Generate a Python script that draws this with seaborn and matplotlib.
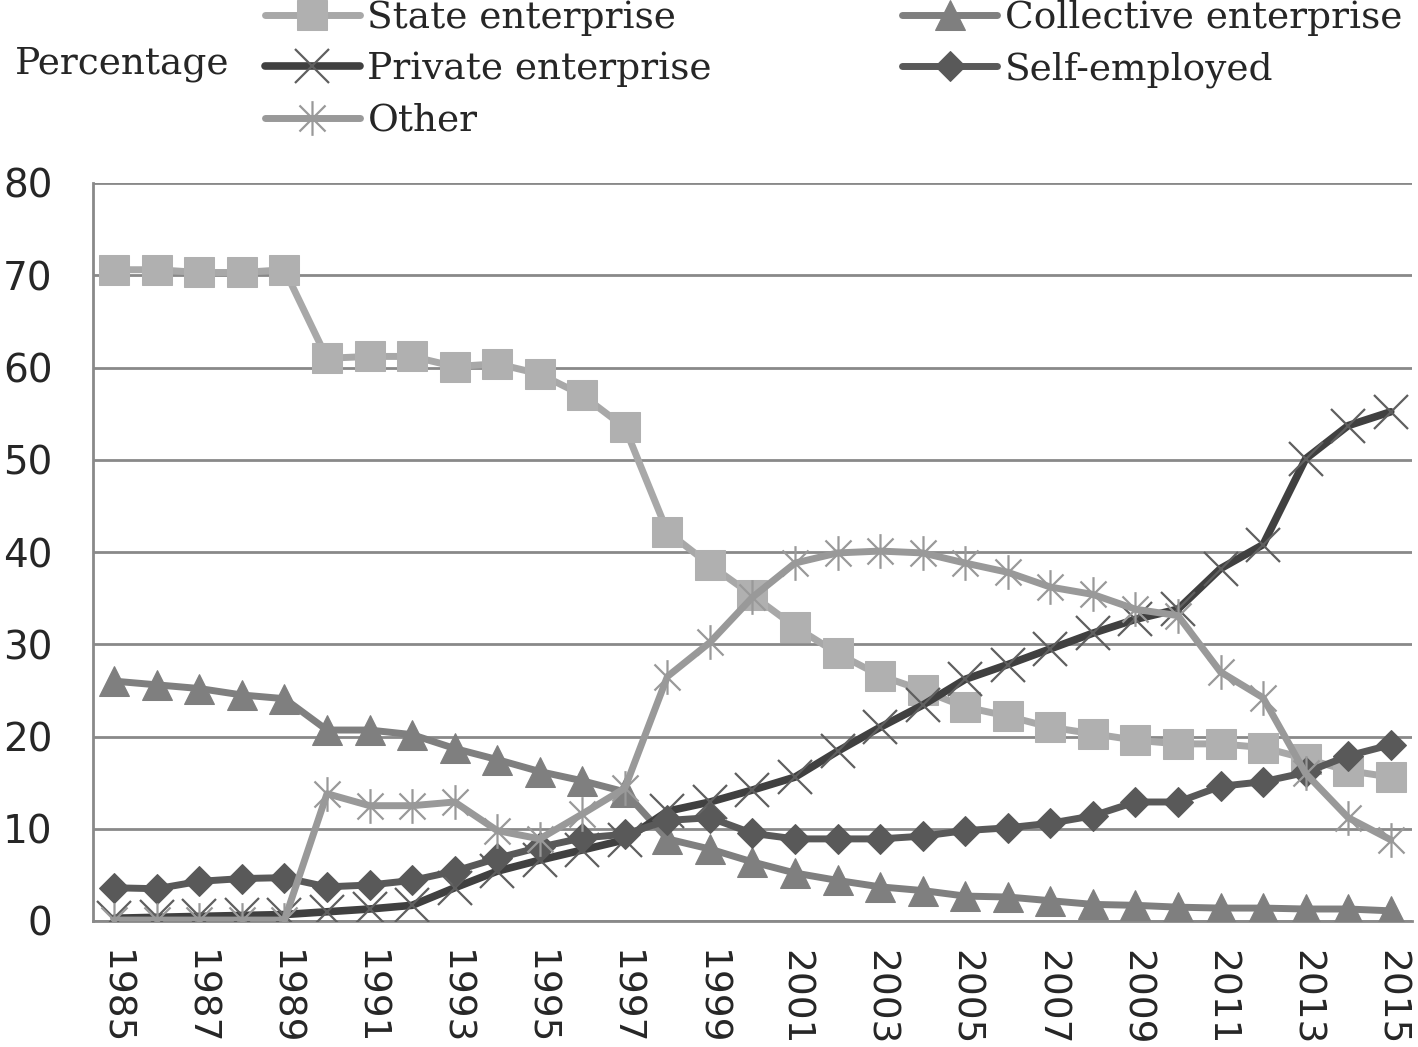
import numpy as np
import pandas as pd
import matplotlib
matplotlib.use("Agg")
import matplotlib.pyplot as plt
from matplotlib.path import Path
import seaborn as sns

years = list(range(1985, 2016))
state = [70.6, 70.6, 70.3, 70.3, 70.6,
         61.0, 61.2, 61.2, 60.1, 60.4,
         59.3, 57.0, 53.5, 42.2, 38.6,
         35.3, 31.9, 29.0, 26.6, 25.0,
         23.2, 22.2, 21.0, 20.3, 19.6,
         19.2, 19.2, 18.8, 17.6, 16.3,
         15.6]
collective = [26.0, 25.6, 25.2, 24.5, 24.1,
              20.7, 20.7, 20.2, 18.7, 17.5,
              16.2, 15.2, 14.0, 8.9, 7.8,
              6.4, 5.2, 4.4, 3.7, 3.3,
              2.7, 2.6, 2.2, 1.8, 1.7,
              1.5, 1.4, 1.4, 1.3, 1.3,
              1.1]
private = [0.3, 0.4, 0.5, 0.6, 0.7,
           1.0, 1.3, 1.7, 3.6, 5.4,
           6.6, 7.7, 8.8, 11.9, 12.9,
           14.2, 15.6, 18.4, 21.0, 23.4,
           26.2, 27.8, 29.5, 31.2, 32.7,
           33.8, 38.2, 40.8, 50.1, 53.7,
           55.2]
self_employed = [3.6, 3.5, 4.3, 4.6, 4.7,
                 3.7, 3.9, 4.4, 5.4, 6.8,
                 8.0, 9.0, 9.4, 10.9, 11.2,
                 9.5, 8.9, 8.9, 8.9, 9.2,
                 9.8, 10.1, 10.6, 11.4, 12.9,
                 12.9, 14.6, 15.1, 16.1, 17.9,
                 19.1]
other = [0.1, 0.1, 0.1, 0.1, 0.1,
         13.8, 12.5, 12.5, 12.9, 9.8,
         8.9, 11.6, 14.4, 26.5, 30.2,
         35.1, 38.8, 39.9, 40.1, 39.9,
         38.8, 37.8, 36.2, 35.4, 33.8,
         33.1, 27.0, 24.2, 16.0, 11.2,
         8.8]
y_ticks = [0, 10, 20, 30, 40, 50, 60, 70, 80]
x_labels = [str(y) for y in years[::2]]

sns.set_style("white")
plt.rcParams['font.family'] = ['DejaVu Sans']

W, H = 1418, 1047
fig = plt.figure(figsize=(W / 100, H / 100), dpi=100)
L, R, T, B = 93, 1412, 183, 921
ax = fig.add_axes([L / W, 1 - B / H, (R - L) / W, (B - T) / H])

star_path = Path([(0, -1), (0, 1), (-0.75, -0.75), (0.75, 0.75), (-0.75, 0.75), (0.75, -0.75)],
                 [Path.MOVETO, Path.LINETO, Path.MOVETO, Path.LINETO, Path.MOVETO, Path.LINETO])

grid_c = '#898989'
series = [
    ("State enterprise", state, dict(color='#a8a8a8', lw=5, marker='s', markersize=21,
                                     markerfacecolor='#b0b0b0', markeredgecolor='#b0b0b0')),
    ("Collective enterprise", collective, dict(color='#7f7f7f', lw=5, marker='^', markersize=21,
                                               markerfacecolor='#7f7f7f', markeredgecolor='#7f7f7f')),
    ("Private enterprise", private, dict(color='#404040', lw=5.5, marker='x', markersize=25,
                                         markeredgecolor='#5f5f5f', markeredgewidth=1.6)),
    ("Self-employed", self_employed, dict(color='#595959', lw=5, marker='D', markersize=15,
                                          markerfacecolor='#595959', markeredgecolor='#595959')),
    ("Other", other, dict(color='#999999', lw=5, marker=star_path, markersize=25,
                          markerfacecolor='none', markeredgecolor='#999999', markeredgewidth=1.6)),
]

for i, (name, vals, kw) in enumerate(series):
    df = pd.DataFrame({'year': years, 'value': vals})
    sns.lineplot(data=df, x='year', y='value', ax=ax, label=name, legend=False,
                 zorder=3 + i, **kw)

ax.set_xlim(1984.5, 2015.5)
ax.set_ylim(0, 80)
ax.set_yticks(y_ticks)
ax.set_yticklabels([str(v) for v in y_ticks])
ax.set_xticks(np.arange(1984.5, 2016, 1.0))
ax.set_xticklabels([])
ax.set_xticks(years[::2], labels=x_labels, minor=True)
ax.tick_params(axis='x', which='major', length=11, width=2, color=grid_c, direction='out')
ax.tick_params(axis='x', which='minor', length=0, pad=21, labelsize=27, labelrotation=-90)
ax.tick_params(axis='y', which='major', length=11, width=2, color=grid_c, pad=18, labelsize=28)
ax.set_xlabel('')
ax.set_ylabel('')
ax.yaxis.grid(True, color=grid_c, lw=2)
ax.xaxis.grid(False)
for s in ['top', 'right']:
    ax.spines[s].set_visible(False)
for s in ['left', 'bottom']:
    ax.spines[s].set_color(grid_c)
    ax.spines[s].set_linewidth(2)
ax.set_axisbelow(True)

serif = 'DejaVu Serif'
fig.text(15 / W, 1 - 64 / H, 'Percentage', ha='left', va='center',
         family=serif, fontsize=27)

handles, labels = ax.get_legend_handles_labels()
order = [0, 2, 4, 1, 3]
fig.legend([handles[i] for i in order], [labels[i] for i in order], ncol=2,
           loc='upper left', bbox_to_anchor=(265 / W, 1.0), frameon=False,
           prop={'family': serif, 'size': 27},
           handlelength=2.53, handletextpad=0.2, columnspacing=5.08,
           labelspacing=0.41, borderpad=0, borderaxespad=0)

fig.savefig('out.png', dpi=100)
